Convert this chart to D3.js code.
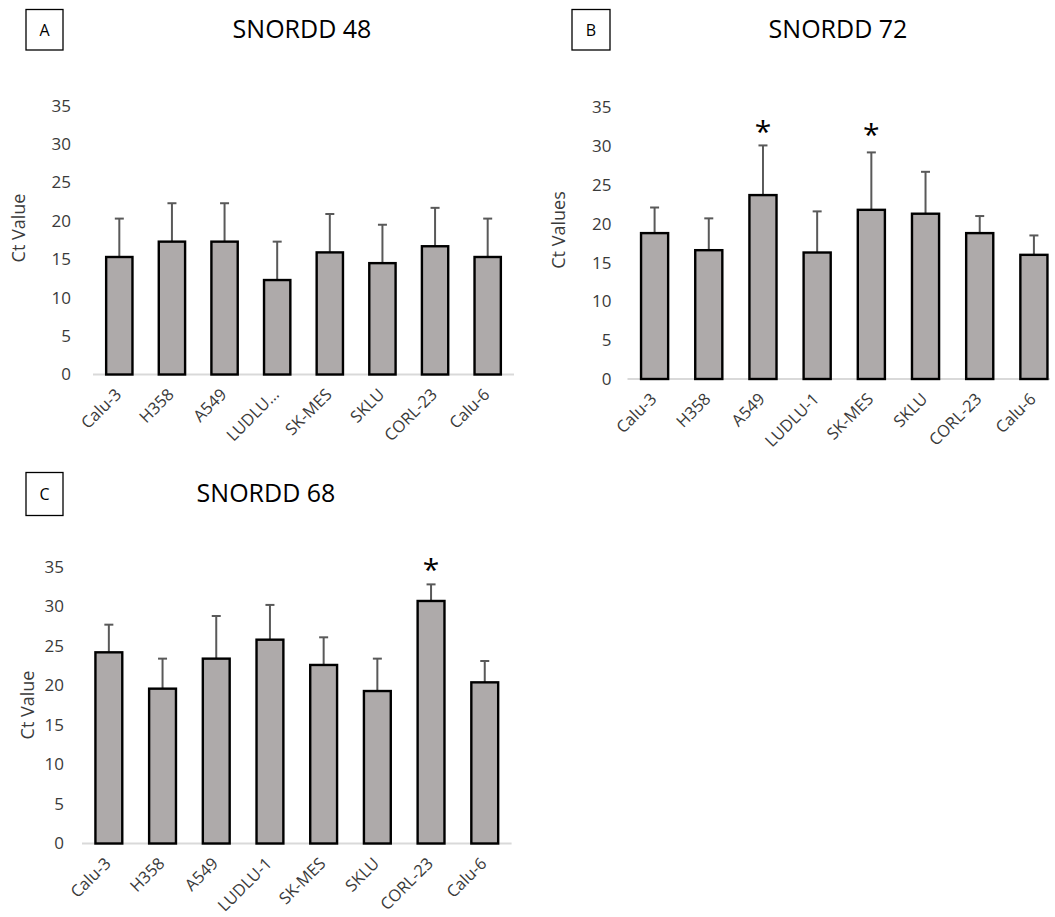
<!DOCTYPE html>
<html>
<head>
<meta charset="utf-8">
<script src="https://cdn.jsdelivr.net/npm/d3@7"></script>
<style>
  html, body { margin: 0; padding: 0; background: #ffffff; }
  svg { display: block; font-family: "Open Sans", "DejaVu Sans", sans-serif; }
</style>
</head>
<body>
<svg id="chart" width="1055" height="917"></svg>
<script>
// Cell lines on the x axis
const cellLines = ["Calu-3", "H358", "A549", "LUDLU-1", "SK-MES", "SKLU", "CORL-23", "Calu-6"];
// Panel A prints a truncated LUDLU-1 label
const labelsA = ["Calu-3", "H358", "A549", "LUDLU\u2026", "SK-MES", "SKLU", "CORL-23", "Calu-6"];
const yTicks = [0, 5, 10, 15, 20, 25, 30, 35];

// SNORDD 48: mean Ct value and upper error (SD)
const snordd48Mean = [15.3, 17.3, 17.3, 12.3, 15.9, 14.5, 16.7, 15.3];
const snordd48Err  = [5.0, 5.0, 5.0, 5.0, 5.0, 5.0, 5.0, 5.0];

// SNORDD 72
const snordd72Mean = [18.8, 16.6, 23.7, 16.3, 21.8, 21.3, 18.8, 16.0];
const snordd72Err  = [3.3, 4.1, 6.4, 5.3, 7.4, 5.4, 2.2, 2.5];

// SNORDD 68
const snordd68Mean = [24.2, 19.6, 23.4, 25.8, 22.6, 19.3, 30.7, 20.4];
const snordd68Err  = [3.5, 3.8, 5.4, 4.4, 3.5, 4.1, 2.1, 2.7];

// Significance markers: cell line and height (Ct units) of the asterisk
const sig72 = [{ line: "A549", at: 32.5 }, { line: "SK-MES", at: 32.1 }];
const sig68 = [{ line: "CORL-23", at: 35.2 }];

const svg = d3.select("#chart");
svg.append("rect").attr("width", 1055).attr("height", 917).attr("fill", "#ffffff");

const panels = [
  { letter: "A", title: "SNORDD 48", yTitle: "Ct Value", labels: labelsA,
    mean: snordd48Mean, err: snordd48Err, sig: [],
    x0: 93, x1: 514, axisEnd: 514, yBase: 374.5, yTop: 105.7, tickGap: 22,
    box: [26, 9.5, 37, 40.5], titleX: 302, titleY: 38, yTitleX: 18, yTitleY: 228 },
  { letter: "B", title: "SNORDD 72", yTitle: "Ct Values", labels: cellLines,
    mean: snordd72Mean, err: snordd72Err, sig: sig72,
    x0: 627.5, x1: 1061, axisEnd: 1050, yBase: 379, yTop: 107.4, tickGap: 16,
    box: [572, 9.5, 38, 40.5], titleX: 838, titleY: 38, yTitleX: 558, yTitleY: 230 },
  { letter: "C", title: "SNORDD 68", yTitle: "Ct Value", labels: cellLines,
    mean: snordd68Mean, err: snordd68Err, sig: sig68,
    x0: 82, x1: 511.6, axisEnd: 511.6, yBase: 843.5, yTop: 567, tickGap: 18,
    box: [26, 472.5, 37, 43], titleX: 266, titleY: 502, yTitleX: 27, yTitleY: 705 }
];

const barFill = "#aeaaaa";
const errColor = "#595959";
const textColor = "#3a3a3a";
const DIAG = Math.SQRT1_2;

panels.forEach(p => {
  const g = svg.append("g");
  const x = d3.scaleBand().domain(cellLines).range([p.x0, p.x1]).paddingInner(0.5).paddingOuter(0.25);
  const y = d3.scaleLinear().domain([0, 35]).range([p.yBase, p.yTop]);

  // panel letter box
  g.append("rect")
    .attr("x", p.box[0]).attr("y", p.box[1]).attr("width", p.box[2]).attr("height", p.box[3])
    .attr("fill", "none").attr("stroke", "#000").attr("stroke-width", 1.3);
  g.append("text")
    .attr("x", p.box[0] + p.box[2] / 2).attr("y", p.box[1] + p.box[3] / 2 + 6)
    .attr("text-anchor", "middle").attr("font-size", 16).attr("fill", "#000")
    .text(p.letter);

  // title
  g.append("text")
    .attr("x", p.titleX).attr("y", p.titleY)
    .attr("text-anchor", "middle").attr("font-size", 25).attr("fill", "#000")
    .text(p.title);

  // y axis tick labels (no axis line)
  const yAxis = d3.axisLeft(y).tickValues(yTicks).tickSize(0).tickPadding(p.tickGap);
  const ya = g.append("g").attr("transform", `translate(${p.x0},0)`).call(yAxis);
  ya.select(".domain").remove();
  ya.selectAll("text").attr("font-size", 17).attr("fill", textColor)
    .attr("font-family", "'Open Sans', sans-serif");

  // y axis title
  g.append("text")
    .attr("transform", `translate(${p.yTitleX},${p.yTitleY}) rotate(-90)`)
    .attr("text-anchor", "middle").attr("dominant-baseline", "central")
    .attr("font-size", 18).attr("fill", textColor)
    .text(p.yTitle);

  // baseline
  g.append("line")
    .attr("x1", p.x0).attr("x2", p.axisEnd).attr("y1", p.yBase).attr("y2", p.yBase)
    .attr("stroke", "#d9d9d9").attr("stroke-width", 1.8);

  // x labels on a 45-degree diagonal, each ending just under its bar
  g.append("g").selectAll("text").data(cellLines).join("text")
    .attr("transform", d => {
      const tx = x(d) + x.bandwidth() / 2 + 3, ty = p.yBase + 21;
      return `matrix(${DIAG},${-DIAG},${DIAG},${DIAG},${tx},${ty})`;
    })
    .attr("text-anchor", "end")
    .attr("font-size", 16.5).attr("fill", textColor)
    .text((d, i) => p.labels[i]);

  const rows = cellLines.map((c, i) => ({ c, m: p.mean[i], e: p.err[i] }));

  // error bars (upper only), drawn behind the bars
  const eg = g.append("g").attr("stroke", errColor).attr("stroke-width", 2);
  eg.selectAll("line.stem").data(rows).join("line")
    .attr("x1", d => x(d.c) + x.bandwidth() / 2).attr("x2", d => x(d.c) + x.bandwidth() / 2)
    .attr("y1", d => y(d.m)).attr("y2", d => y(d.m + d.e));
  eg.selectAll("line.cap").data(rows).join("line")
    .attr("x1", d => x(d.c) + x.bandwidth() / 2 - 4.5).attr("x2", d => x(d.c) + x.bandwidth() / 2 + 4.5)
    .attr("y1", d => y(d.m + d.e)).attr("y2", d => y(d.m + d.e));

  // bars
  g.append("g").selectAll("rect").data(rows).join("rect")
    .attr("x", d => x(d.c)).attr("width", x.bandwidth())
    .attr("y", d => y(d.m)).attr("height", d => y(0) - y(d.m))
    .attr("fill", barFill).attr("stroke", "#000").attr("stroke-width", 2.4);

  // significance asterisks
  g.append("g").selectAll("text").data(p.sig).join("text")
    .attr("x", d => x(d.line) + x.bandwidth() / 2)
    .attr("y", d => y(d.at) + 15)
    .attr("text-anchor", "middle").attr("font-size", 30).attr("fill", "#000")
    .text("*");
});
</script>
</body>
</html>
